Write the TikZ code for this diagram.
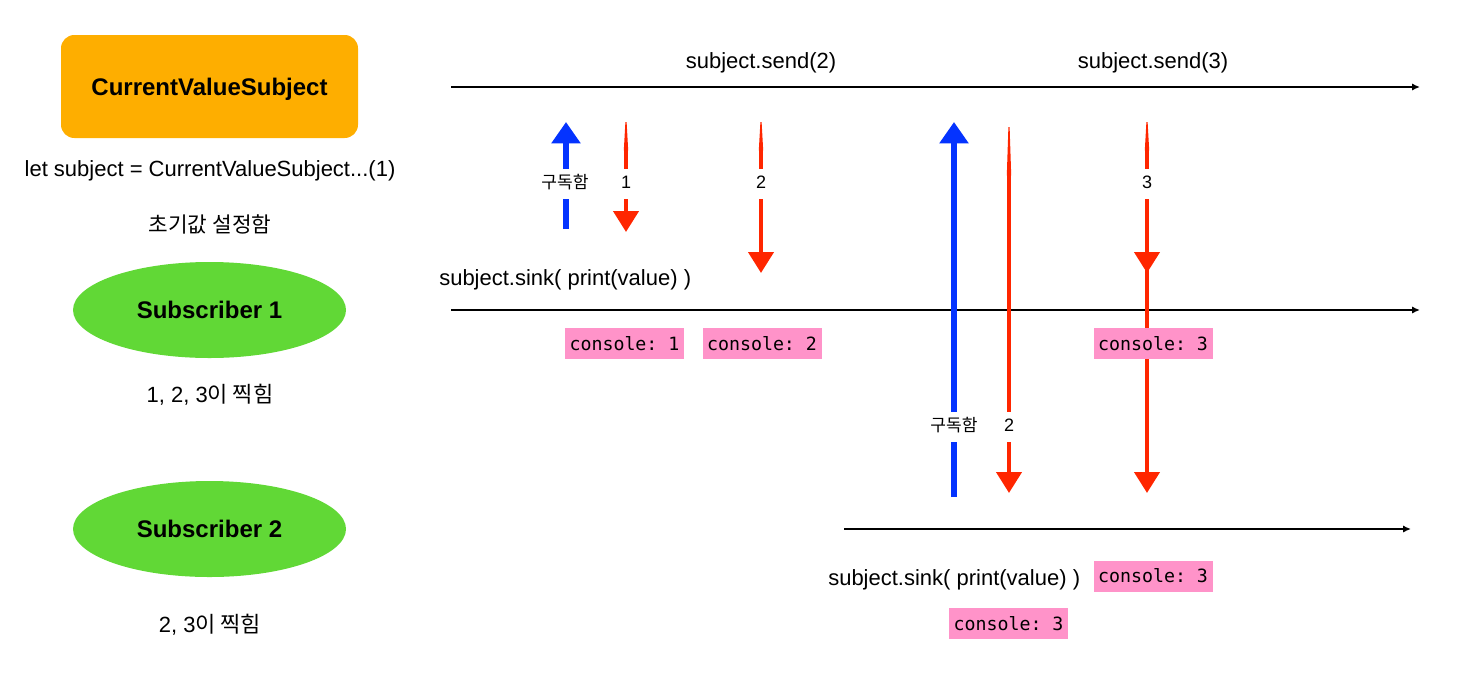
\documentclass[tikz,border=0pt]{standalone}
\usepackage{fontspec}
\setmainfont{Liberation Sans}
\setmonofont{DejaVu Sans Mono}
\newfontfamily\kr{Noto Sans CJK KR}
\usetikzlibrary{arrows.meta,shapes.geometric}
\definecolor{cvsorange}{RGB}{254,174,0}
\definecolor{subgreen}{RGB}{97,216,54}
\definecolor{conspink}{RGB}{255,147,201}
\definecolor{arrblue}{RGB}{4,51,255}
\definecolor{arrred}{RGB}{255,38,0}
\begin{document}
\begin{tikzpicture}[x=0.75pt,y=-0.75pt,
  txt/.style={font=\fontsize{16.5}{19}\selectfont, inner sep=0pt},
  krtxt/.style={font=\kr\fontsize{16}{19}\selectfont, inner sep=0pt},
  cvsbox/.style={fill=cvsorange, rounded corners=10pt, minimum width=222.75pt, minimum height=77.25pt, inner sep=0pt, text depth=0pt, font=\bfseries\fontsize{18}{21}\selectfont},
  subell/.style={ellipse, fill=subgreen, minimum width=204.75pt, minimum height=72pt, inner sep=0pt, font=\bfseries\fontsize{18}{21}\selectfont},
  console/.style={fill=conspink, minimum width=89.25pt, minimum height=23.25pt, inner sep=0pt, font=\ttfamily\fontsize{13.7}{16}\selectfont},
  timeline/.style={line width=1.5pt, -{Latex[length=6pt,width=5.5pt]}},
  bluearrow/.style={draw=arrblue, line width=4pt, -{Triangle[width=21pt,length=16pt]}},
  redarrow/.style={draw=arrred, line width=3.2pt, -{Triangle[width=18.75pt,length=15.75pt]}},
  taper/.style={fill=arrred},
  numlbl/.style={fill=white, inner xsep=2pt, inner ysep=5.5pt, text height=9.5pt, text depth=2.5pt, font=\fontsize{13.5}{15}\selectfont},
  krlbl/.style={fill=white, inner xsep=2pt, inner ysep=5.5pt, text height=9pt, text depth=3pt, font=\kr\fontsize{12.8}{14}\selectfont}
]
\useasboundingbox (0,0) rectangle (1467,690);

% left column
\node[cvsbox] (cvs) at (209.5,86.5) {CurrentValueSubject};
\node[txt] (letline) at (210,171) {let subject = CurrentValueSubject...(1)};
\node[krtxt] (init) at (210,224) {초기값 설정함};
\node[subell] (sub1) at (209.5,310) {Subscriber 1};
\node[txt] (got1) at (210,395) {1, 2, 3{\kr 이 찍힘}};
\node[subell] (sub2) at (209.5,529) {Subscriber 2};
\node[txt] (got2) at (210,625) {2, 3{\kr 이 찍힘}};

% timelines
\coordinate (t0) at (451,87);  \coordinate (t1) at (1420,87);
\coordinate (m0) at (451,310); \coordinate (m1) at (1420,310);
\coordinate (b0) at (844,529); \coordinate (b1) at (1411,529);
\draw[timeline] (t0) -- (t1);
\draw[timeline] (m0) -- (m1);
\draw[timeline] (b0) -- (b1);

\node[txt] (send2) at (761,63) {subject.send(2)};
\node[txt] (send3) at (1153,63) {subject.send(3)};
\node[txt, anchor=west] (sink1) at (439,280) {subject.sink( print(value) )};
\node[txt, anchor=west] (sink2) at (828,580) {subject.sink( print(value) )};

% arrows
\coordinate (u1s) at (566,229);  \coordinate (u1e) at (566,122);
\coordinate (r1s) at (626,150);  \coordinate (r1e) at (626,232);
\coordinate (r2s) at (761,150);  \coordinate (r2e) at (761,273);
\coordinate (u2s) at (954,497);  \coordinate (u2e) at (954,122);
\coordinate (r4s) at (1009,175); \coordinate (r4e) at (1009,493);
\coordinate (r3s) at (1147,150); \coordinate (r3m) at (1147,273);
\coordinate (r3n) at (1147,258); \coordinate (r3e) at (1147,493);
\fill[taper] (625.4,122) -- (626.6,122) -- (628.2,150.5) -- (623.8,150.5) -- cycle;
\fill[taper] (760.4,122) -- (761.6,122) -- (763.2,150.5) -- (758.8,150.5) -- cycle;
\fill[taper] (1008.4,127) -- (1009.6,127) -- (1011.2,175.5) -- (1006.8,175.5) -- cycle;
\fill[taper] (1146.4,122) -- (1147.6,122) -- (1149.2,150.5) -- (1144.8,150.5) -- cycle;
\draw[bluearrow] (u1s) -- (u1e);
\draw[redarrow] (r1s) -- (r1e);
\draw[redarrow] (r2s) -- (r2e);
\draw[bluearrow] (u2s) -- (u2e);
\draw[redarrow] (r4s) -- (r4e);
\draw[redarrow] (r3s) -- (r3m);
\draw[redarrow] (r3n) -- (r3e);

% arrow labels
\node[krlbl] (sublbl1) at (565,184) {구독함};
\node[numlbl] (n1) at (626,184) {1};
\node[numlbl] (n2) at (761,184) {2};
\node[numlbl] (n3) at (1147,184) {3};
\node[krlbl] (sublbl2) at (954,427) {구독함};
\node[numlbl] (n2b) at (1009,427) {2};

% console outputs
\node[console] (c1) at (624.5,343.5) {console: 1};
\node[console] (c2) at (762,343.5) {console: 2};
\node[console] (c3a) at (1153,343.5) {console: 3};
\node[console] (c3b) at (1153,576) {console: 3};
\node[console] (c3c) at (1008.5,623.5) {console: 3};
\end{tikzpicture}
\end{document}
